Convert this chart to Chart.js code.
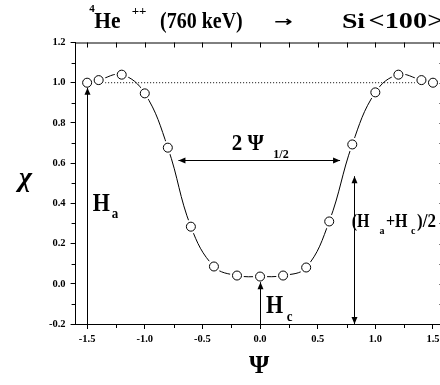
<!DOCTYPE html>
<html><head><meta charset="utf-8">
<script src="https://cdn.jsdelivr.net/npm/chart.js@4"></script>
<style>html,body{margin:0;padding:0;overflow:hidden;background:#fff;width:440px;height:385px}canvas{display:block}</style>
</head><body>
<canvas id="c" width="460" height="385" style="width:460px;height:385px"></canvas>
<script>
// ---- data ----
const psi = [-1.5, -1.4, -1.2, -1.0, -0.8, -0.6, -0.4, -0.2, 0.0, 0.2, 0.4, 0.6, 0.8, 1.0, 1.2, 1.4, 1.5];
const chi = [1.00, 1.013, 1.04, 0.947, 0.677, 0.284, 0.086, 0.041, 0.036, 0.041, 0.081, 0.31, 0.693, 0.952, 1.04, 1.013, 1.00];
const xTickValues = [-1.5, -1.0, -0.5, 0.0, 0.5, 1.0, 1.5];
const yTickValues = [-0.2, 0.0, 0.2, 0.4, 0.6, 0.8, 1.0, 1.2];
const xMinorValues = [-1.5, -1.25, -1.0, -0.75, -0.5, -0.25, 0, 0.25, 0.5, 0.75, 1.0, 1.25, 1.5];
const yMinorValues = [-0.1, 0.1, 0.3, 0.5, 0.7, 0.9, 1.1];
const randomLevelX = [-1.5, 1.5];
const randomLevelY = [1.0, 1.0];

const pts = psi.map((x, i) => ({x, y: chi[i]}));
const SERIF = '"Liberation Serif","Times New Roman",serif';

const deco = {
  id: 'deco',
  afterDatasetsDraw(chart) {
    const {ctx, chartArea: a, scales: {x, y}} = chart;
    const X = v => x.getPixelForValue(v), Y = v => y.getPixelForValue(v);
    ctx.save();
    ctx.strokeStyle = '#000'; ctx.fillStyle = '#000'; ctx.lineWidth = 1;
    ctx.beginPath();
    ctx.moveTo(a.left, a.top + 0.5); ctx.lineTo(a.right, a.top + 0.5);
    ctx.moveTo(a.right - 0.5, a.top); ctx.lineTo(a.right - 0.5, a.bottom);
    ctx.stroke();
    ctx.beginPath();
    xMinorValues.forEach(v => {
      const px = Math.round(X(v)) + 0.5;
      ctx.moveTo(px, a.top); ctx.lineTo(px, a.top + 5);
      if (!xTickValues.includes(v)) { ctx.moveTo(px, a.bottom); ctx.lineTo(px, a.bottom + 4); }
    });
    yTickValues.concat(yMinorValues).forEach(v => {
      const py = Math.round(Y(v)) + 0.5;
      ctx.moveTo(a.right, py); ctx.lineTo(a.right - 5, py);
      if (!yTickValues.includes(v)) { ctx.moveTo(a.left, py); ctx.lineTo(a.left - 4, py); }
    });
    ctx.stroke();

    const arrowHead = (px, py, dir) => {
      const L = 7, W = 3;
      ctx.beginPath();
      if (dir === 'up') { ctx.moveTo(px, py); ctx.lineTo(px - W, py + L); ctx.lineTo(px + W, py + L); }
      if (dir === 'down') { ctx.moveTo(px, py); ctx.lineTo(px - W, py - L); ctx.lineTo(px + W, py - L); }
      if (dir === 'left') { ctx.moveTo(px, py); ctx.lineTo(px + L, py - W); ctx.lineTo(px + L, py + W); }
      if (dir === 'right') { ctx.moveTo(px, py); ctx.lineTo(px - L, py - W); ctx.lineTo(px - L, py + W); }
      ctx.closePath(); ctx.fill();
    };
    const vline = (xv, y0, y1) => {
      const px = Math.round(X(xv)) + 0.5;
      ctx.beginPath(); ctx.moveTo(px, Y(y0)); ctx.lineTo(px, Y(y1)); ctx.stroke();
      return px;
    };
    let px = vline(-1.5, -0.2, 0.975); arrowHead(px, Y(0.975), 'up');
    px = vline(0.0, -0.2, 0.008); arrowHead(px, Y(0.008), 'up');
    px = vline(0.815, -0.2, 0.535); arrowHead(px, Y(0.535), 'up'); arrowHead(px, Y(-0.2), 'down');
    const py = Math.round(Y(0.618)) + 0.5;
    ctx.beginPath(); ctx.moveTo(X(-0.708), py); ctx.lineTo(X(0.694), py); ctx.stroke();
    arrowHead(X(-0.708), py, 'left'); arrowHead(X(0.694), py, 'right');

    // text: ink-left at x0, on baseline, with optional vertical stretch
    const t = (s, x0, base, size, sy, style, fam) => {
      ctx.save();
      ctx.font = (style || 'bold') + ' ' + size + 'px ' + (fam || SERIF);
      ctx.textAlign = 'left'; ctx.textBaseline = 'alphabetic';
      const m = ctx.measureText(s);
      ctx.translate(x0, base);
      ctx.scale(1, sy || 1);
      ctx.fillText(s, m.actualBoundingBoxLeft, 0);
      ctx.restore();
    };
    const box = (s, x0, x1, y0, y1, style, fam) => {
      ctx.save();
      ctx.font = (style || 'bold') + ' 40px ' + (fam || SERIF);
      ctx.textAlign = 'left'; ctx.textBaseline = 'alphabetic';
      const m = ctx.measureText(s);
      const w = m.actualBoundingBoxLeft + m.actualBoundingBoxRight;
      const h = m.actualBoundingBoxAscent + m.actualBoundingBoxDescent;
      ctx.translate(x0, y0);
      ctx.scale((x1 - x0) / w, (y1 - y0) / h);
      ctx.fillText(s, m.actualBoundingBoxLeft, m.actualBoundingBoxAscent);
      ctx.restore();
    };
    // Title
    t('4', 89.3, 12.3, 11);
    t('He', 94.3, 28.3, 21.5, 1.07);
    t('++', 131.7, 14.5, 13);
    t('(760 keV)', 160, 28.3, 20, 1.12);
    box('\u2192', 275, 291.7, 18.3, 25, 'bold', '"DejaVu Sans",sans-serif');
    box('Si', 343.3, 365, 13.3, 28.3);
    box('<100>', 370, 442, 13.3, 28.3);
    // Ha
    t('H', 92.7, 210.7, 22, 1.15);
    t('a', 111.7, 218.3, 13, 1.15);
    // Hc
    t('H', 266, 313.3, 22, 1.15);
    t('c', 286.7, 320.7, 13, 1.15);
    // 2 Psi 1/2
    t('2 \u03A8', 231.7, 150, 21, 1.12);
    t('1/2', 273.3, 158.3, 12, 1.1);
    // (Ha+Hc)/2
    t('(H', 351.7, 226.7, 16, 1.15);
    t('a', 379.5, 234, 10);
    t('+H', 386, 226.7, 16, 1.15);
    t('c', 411, 234, 10);
    t(')/2', 417, 226.7, 17, 1.12);
    // axis titles
    t('\u03C7', 15, 186, 28, 1, 'italic bold');
    t('\u03A8', 249, 373, 26, 1);
    ctx.restore();
  }
};

new Chart(document.getElementById('c'), {
  type: 'scatter',
  data: {
    datasets: [
      { data: pts, showLine: true, tension: 0.4, borderColor: '#000', borderWidth: 1, pointRadius: 0, order: 4 },
      { data: randomLevelX.map((x, i) => ({x, y: randomLevelY[i]})), showLine: true, borderColor: '#000', borderWidth: 1, borderDash: [1, 2], pointRadius: 0, order: 5 },
      { data: pts, showLine: false, pointRadius: 7, pointBackgroundColor: '#fff', pointBorderWidth: 0, pointBorderColor: '#fff', order: 2 },
      { data: pts, showLine: false, pointRadius: 4.5, pointBackgroundColor: '#fff', pointBorderColor: '#000', pointBorderWidth: 1, order: 1 }
    ]
  },
  options: {
    responsive: false, animation: false, devicePixelRatio: 1,
    layout: { padding: { left: 0, top: 42.5, right: 15.5, bottom: 0 } },
    plugins: { legend: { display: false }, tooltip: { enabled: false } },
    scales: {
      x: {
        type: 'linear', min: -1.6, max: 1.6,
        afterFit(s) { s.height = 61; },
        afterBuildTicks(s) { s.ticks = xTickValues.map(v => ({value: v})); },
        border: { display: true, color: '#000', width: 1 },
        grid: { drawOnChartArea: false, drawTicks: true, tickLength: 5, color: '#000' },
        ticks: { color: '#000', font: { family: SERIF, weight: 'bold', size: 10.5 }, padding: 4, maxRotation: 0, autoSkip: false, callback: v => v.toFixed(1) }
      },
      y: {
        type: 'linear', min: -0.2, max: 1.2,
        afterFit(s) { s.width = 75.6; },
        afterBuildTicks(s) { s.ticks = yTickValues.map(v => ({value: v})); },
        border: { display: true, color: '#000', width: 1 },
        grid: { drawOnChartArea: false, drawTicks: true, tickLength: 5, color: '#000' },
        ticks: { color: '#000', font: { family: SERIF, weight: 'bold', size: 10.5 }, padding: 5, autoSkip: false, callback: v => v.toFixed(1) }
      }
    }
  },
  plugins: [deco]
});
</script>
</body></html>
